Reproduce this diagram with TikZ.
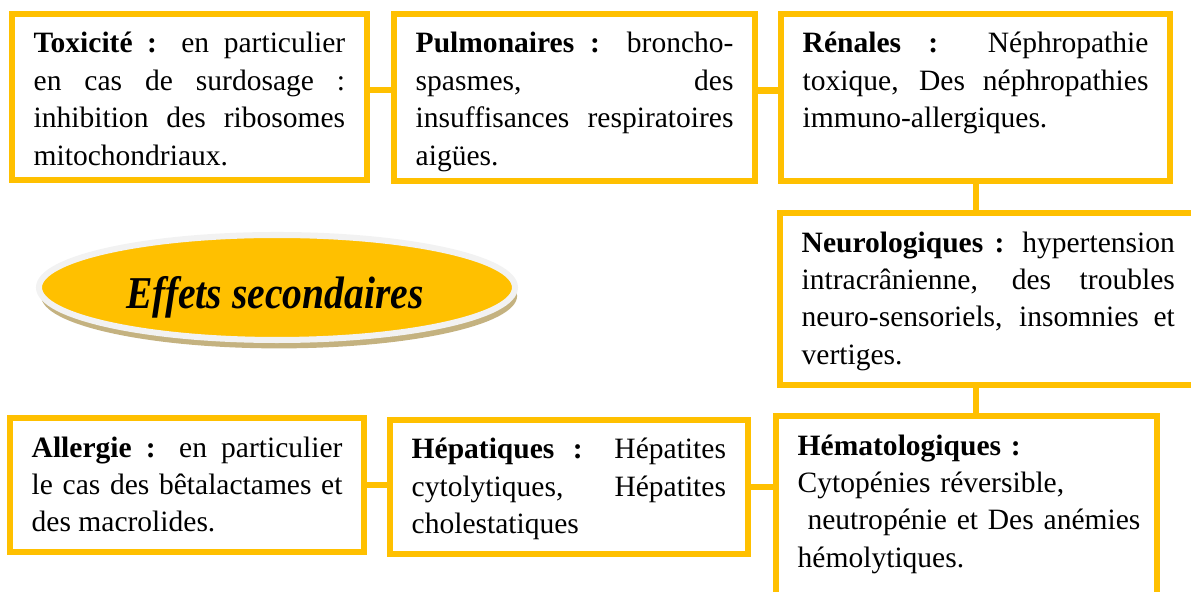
\documentclass[tikz,border=0pt]{standalone}
\usepackage{fontspec}
\setmainfont{Liberation Serif}
\usepackage{tikz}
\usepackage{xcolor}
\usetikzlibrary{calc, positioning, shapes.geometric, shadows}
\definecolor{jaune}{RGB}{255,192,0}
\definecolor{gris}{RGB}{242,242,242}
\definecolor{ombre}{RGB}{196,178,128}
\tikzset{
    effet/.style={rectangle, draw=jaune, fill=white, line width=0.086cm, anchor=north west,
        outer sep=0pt, inner xsep=0.31cm, inner ysep=0pt, text height=0.557cm,
        align=justify, font={\fontsize{12}{15.2}\selectfont}},
    lien/.style={draw=jaune, line width=0.086cm},
    titre/.style={ellipse, draw=gris, fill=jaune, line width=0.086cm,
        minimum width=6.8cm, minimum height=1.5cm, inner sep=0pt}
}
\newcommand{\effet}[5]{
    \node[effet, text width=#3, text depth=#4] (#1) at (#2) {#5};
}

\begin{document}
\begin{tikzpicture}
                        \useasboundingbox (0, 0) rectangle (17.014, 8.443);
                        \clip (0, 0) rectangle (17.014, 8.443);
                        \effet{tox}{0.171, 8.243}{4.45cm}{1.814cm}{\textbf{Toxicité :} en particulier\linebreak en cas de surdosage :\linebreak inhibition des ribosomes\linebreak mitochondriaux.}
                        \effet{pul}{5.629, 8.243}{4.54cm}{1.829cm}{\textbf{Pulmonaires :} broncho-\linebreak spasmes, des\linebreak insuffisances respiratoires\linebreak aigües.}
                        \effet{ren}{11.157, 8.243}{4.94cm}{1.829cm}{\textbf{Rénales :} Néphropathie\linebreak toxique, Des néphropathies\linebreak immuno-allergiques.}
                        \effet{neu}{11.143, 5.4}{5.33cm}{1.9cm}{\textbf{Neurologiques :} hypertension\linebreak intracrânienne, des troubles\linebreak neuro-sensoriels, insomnies et\linebreak vertiges.}
                        \node[effet, align=left, text width=4.82cm, text depth=2.443cm] (hem) at (11.086, 2.5) {\textbf{Hématologiques :}\\ Cytopénies réversible,\\ \mbox{\ neutropénie et Des anémies}\\ hémolytiques.};
                        \effet{hep}{5.571, 2.443}{4.49cm}{1.357cm}{\textbf{Hépatiques :} Hépatites\linebreak cytolytiques, Hépatites\linebreak cholestatiques}
                        \effet{all}{0.143, 2.471}{4.44cm}{1.357cm}{\textbf{Allergie :} en particulier\linebreak le cas des bêtalactames et\linebreak des macrolides.}
                        \node[titre, drop shadow={shadow xshift=0.03cm, shadow yshift=-0.12cm, fill=ombre, opacity=1}] (titre) at (3.957, 4.336) {};
                        \node[anchor=base, font={\bfseries\itshape\fontsize{18.5}{22}\selectfont}] (titre-t) at ($(titre.center) + (-0.03, -0.307)$) {\scalebox{0.87}[1]{Effets secondaires}};
                        \draw[lien]
                        ([yshift=0.1cm]tox.east) -- ([yshift=0.1cm]tox.east -| pul.west)
                        ([yshift=0.1cm]pul.east) -- ([yshift=0.1cm]pul.east -| ren.west)
                        (ren.south) -- (ren.south |- neu.north)
                        (neu.south -| ren.south) -- (ren.south |- hem.north)
                        (all.east) -- (all.east -| hep.west)
                        (hep.east) -- (hep.east -| hem.west);
                    \end{tikzpicture}
\end{document}
